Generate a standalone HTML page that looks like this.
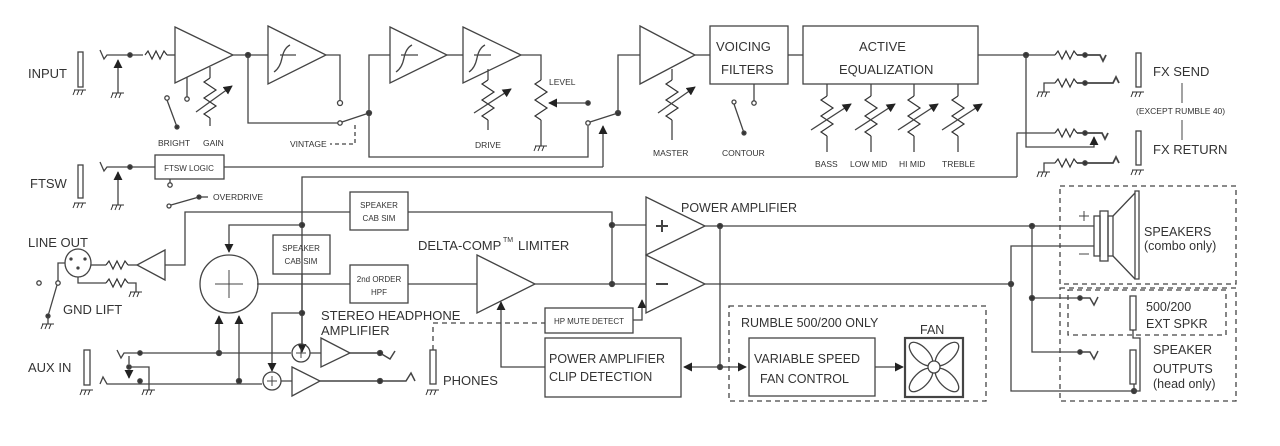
<!DOCTYPE html>
<html><head><meta charset="utf-8"><style>
html,body{margin:0;padding:0;background:#fff;}
svg{display:block;}
text{font-family:"Liberation Sans",sans-serif;fill:#333;}
.s{font-size:8.5px;}
.m{font-size:13px;}
.c{text-anchor:middle;font-size:8px;}
</style></head><body>
<svg width="1280" height="446" viewBox="0 0 1280 446" xmlns="http://www.w3.org/2000/svg">
<defs>
<marker id="ar" viewBox="0 0 10 10" refX="9" refY="5" markerWidth="7" markerHeight="7" orient="auto-start-reverse"><path d="M0,0 L10,5 L0,10 z" fill="#222"/></marker>
<g id="gnd"><path d="M-6,0 H6 M-5,0 l-2,5 M-1,0 l-2,5 M3,0 l-2,5" stroke="#333" stroke-width="1" fill="none"/></g>
<g id="rh"><path d="M0,0 l3,-4 l4,8 l4,-8 l4,8 l4,-8 l3,4" stroke="#333" stroke-width="1.2" fill="none"/></g>
<g id="rv"><path d="M0,0 l-6,4 l12,8 l-12,8 l12,8 l-12,8 l6,4" stroke="#333" stroke-width="1.2" fill="none"/></g>
</defs>
<g stroke="#444" stroke-width="1.3" fill="none">
<!-- INPUT -->
<rect x="78" y="52" width="5" height="35"/>
<use href="#gnd" x="80" y="90"/>
<path d="M100,50 l4,9 l3,-4 H130 H143"/>
<path d="M118,93 V60" marker-end="url(#ar)"/>
<use href="#gnd" x="118" y="93"/>
<circle cx="130" cy="55" r="2.2" fill="#333"/>
<use href="#rh" x="145" y="55"/>
<path d="M167,55 H175"/>
<path d="M175,27 L233,55 L175,83 Z"/>
<path d="M233,55 H268"/><circle cx="248" cy="55" r="2.5" fill="#333"/>
<path d="M187,77 V97"/><circle cx="187" cy="99" r="2.2"/>
<circle cx="167" cy="98" r="2.2"/><path d="M167,100 L177,127"/><circle cx="177" cy="127" r="2" fill="#333"/>
<path d="M210,67 V78"/><use href="#rv" x="210" y="78"/><path d="M210,118 V126"/>
<path d="M196,112 L232,86" marker-end="url(#ar)"/>
<!-- amp2 -->
<path d="M268,26 L326,55 L268,84 Z"/><path d="M274,72 q6,-4 8,-14 q2,-10 8,-13 M280,55 H296"/>
<path d="M326,55 H340 V100"/><circle cx="340" cy="103" r="2.5"/>
<path d="M248,55 V123 H338"/><circle cx="340" cy="123" r="2.2"/>
<path d="M342,122 L369,113"/><circle cx="369" cy="113" r="2.5" fill="#333"/>
<path d="M355,125 V144 H330" stroke-dasharray="4,3"/>
<path d="M369,113 V55 H390 M369,113 V157 H588 V126"/><circle cx="588" cy="123" r="2.2"/>
<!-- amp3,4 -->
<path d="M390,27 L447,55 L390,83 Z"/><path d="M396,72 q6,-4 8,-14 q2,-10 8,-13 M401,55 H418"/>
<path d="M447,55 H463"/>
<path d="M463,27 L521,55 L463,83 Z"/><path d="M469,72 q6,-4 8,-14 q2,-10 8,-13 M474,55 H491"/>
<path d="M488,69 V80"/><use href="#rv" x="488" y="80"/><path d="M488,120 V130"/>
<path d="M474,113 L511,89" marker-end="url(#ar)"/>
<path d="M521,55 H541 V80"/><use href="#rv" x="541" y="80"/><path d="M541,120 V146"/><use href="#gnd" x="541" y="146"/>
<path d="M588,103 H549" marker-end="url(#ar)"/><circle cx="588" cy="103" r="2.2" fill="#333"/>
<path d="M590,122 L618,113"/><circle cx="618" cy="113" r="2.5" fill="#333"/>
<path d="M603,167 V126" marker-end="url(#ar)"/>
<path d="M618,113 V55 H640"/>
<!-- amp5 -->
<path d="M640,26 L695,55 L640,84 Z"/>
<path d="M672,69 V80"/><use href="#rv" x="672" y="80"/><path d="M672,120 V140"/>
<path d="M658,113 L695,87" marker-end="url(#ar)"/>
<path d="M695,55 H710"/>
<rect x="710" y="26" width="78" height="58"/>
<path d="M788,55 H803"/>
<rect x="803" y="26" width="175" height="58"/>
<path d="M754,84 V101"/><circle cx="754" cy="103" r="2.2"/>
<circle cx="734" cy="102" r="2"/><path d="M734,104 L744,133"/><circle cx="744" cy="133" r="2" fill="#333"/>
<path d="M827,84 V96"/><use href="#rv" x="827" y="96"/><path d="M827,136 V152"/><path d="M811,130 L851,104" marker-end="url(#ar)"/>
<path d="M871,84 V96"/><use href="#rv" x="871" y="96"/><path d="M871,136 V152"/><path d="M855,130 L895,104" marker-end="url(#ar)"/>
<path d="M914,84 V96"/><use href="#rv" x="914" y="96"/><path d="M914,136 V152"/><path d="M898,130 L938,104" marker-end="url(#ar)"/>
<path d="M958,84 V96"/><use href="#rv" x="958" y="96"/><path d="M958,136 V152"/><path d="M942,130 L982,104" marker-end="url(#ar)"/>
<!-- FX -->
<path d="M978,55 H1055"/><circle cx="1026" cy="55" r="2.5" fill="#333"/>
<use href="#rh" x="1055" y="55"/><path d="M1077,55 H1100 l3,6 l3,-6" stroke-width="1.8"/><circle cx="1085" cy="55" r="2.2" fill="#333"/>
<use href="#gnd" x="1044" y="92"/><path d="M1044,92 V83 H1055"/><use href="#rh" x="1055" y="83"/><path d="M1077,83 H1113 l3,-6 l3,6" stroke-width="1.8"/><circle cx="1085" cy="83" r="2.2" fill="#333"/>
<rect x="1136" y="53" width="5" height="34"/><use href="#gnd" x="1138" y="92"/>
<path d="M1182,83 V103 M1182,120 V140" stroke-width="1"/>
<rect x="1136" y="131" width="5" height="34"/><use href="#gnd" x="1138" y="170"/>
<path d="M1017,177 V133 H1055"/><use href="#rh" x="1055" y="133"/><path d="M1077,133 H1102 l3,6 l3,-6" stroke-width="1.8"/><circle cx="1085" cy="133" r="2.2" fill="#333"/>
<path d="M1026,55 V147 H1094 V137" marker-end="url(#ar)"/>
<use href="#gnd" x="1044" y="172"/><path d="M1044,172 V163 H1055"/><use href="#rh" x="1055" y="163"/><path d="M1077,163 H1113 l3,-6 l3,6" stroke-width="1.8"/><circle cx="1085" cy="163" r="2.2" fill="#333"/>
<path d="M1017,177 H302 V352" /><circle cx="302" cy="225" r="2.5" fill="#333"/>
<!-- FTSW -->
<rect x="78" y="165" width="5" height="33"/><use href="#gnd" x="80" y="203"/>
<path d="M100,162 l4,9 l3,-4 H130 H155"/><circle cx="130" cy="167" r="2.2" fill="#333"/>
<path d="M118,205 V172" marker-end="url(#ar)"/><use href="#gnd" x="118" y="205"/>
<rect x="155" y="155" width="69" height="24"/>
<path d="M224,167 H603"/>
<path d="M170,179 V183"/><circle cx="170" cy="185" r="2.2"/>
<circle cx="169" cy="206" r="2"/><path d="M171,205 L199,197"/><circle cx="199" cy="197" r="2" fill="#333"/><path d="M199,197 H208"/>
<!-- line out -->
<rect x="350" y="192" width="58" height="38"/>
<path d="M165,265 H185 V212 H350 M408,212 H612 V284"/>
<circle cx="612" cy="225" r="2.5" fill="#333"/><circle cx="612" cy="284" r="2.5" fill="#333"/>
<path d="M612,225 H646 M535,284 H646"/>
<path d="M165,250 L137,265 L165,280 Z"/>
<path d="M137,265 H128"/><use href="#rh" x="106" y="265"/><path d="M106,265 H91"/>
<ellipse cx="78" cy="263" rx="13" ry="14"/>
<circle cx="71" cy="259" r="1" fill="#333"/><circle cx="85" cy="259" r="1" fill="#333"/><circle cx="78" cy="268" r="1" fill="#333"/>
<path d="M65,263 H58 V281"/><circle cx="58" cy="283" r="2.2"/><circle cx="39" cy="283" r="2.2"/>
<path d="M57,285 L48,316"/><circle cx="48" cy="316" r="2" fill="#333"/><use href="#gnd" x="48" y="324"/><path d="M48,316 V324"/>
<path d="M78,277 V283 H106"/><use href="#rh" x="106" y="283"/><path d="M128,283 H136 V292"/><use href="#gnd" x="136" y="292"/>
<!-- sum -->
<ellipse cx="229" cy="284" rx="29" ry="29"/><path d="M229,270 V298 M215,284 H243" stroke-width="1"/>
<path d="M302,225 H229 V252" marker-end="url(#ar)"/>
<rect x="273" y="235" width="57" height="39"/>
<path d="M257,284 H350"/><rect x="350" y="265" width="58" height="38"/><path d="M408,284 H477"/>
<path d="M477,255 L535,284 L477,313 Z"/>
<path d="M302,274 V352" marker-end="url(#ar)"/><circle cx="302" cy="313" r="2.5" fill="#333"/>
<path d="M302,313 H272 V371" marker-end="url(#ar)"/>
<path d="M219,353 V316" marker-end="url(#ar)"/><path d="M239,381 V316" marker-end="url(#ar)"/>
<circle cx="219" cy="353" r="2.5" fill="#333"/><circle cx="239" cy="381" r="2.5" fill="#333"/>
<!-- aux -->
<rect x="84" y="350" width="6" height="35"/><use href="#gnd" x="87" y="390"/>
<path d="M117,350 l4,8 l3,-5 H140 H291" /><circle cx="140" cy="353" r="2.2" fill="#333"/>
<path d="M100,384 l3,-7 l4,7 H140 H262" /><circle cx="140" cy="381" r="2.2" fill="#333"/>
<path d="M129,364 V356 M129,370 V378" marker-end="url(#ar)"/><circle cx="129" cy="367" r="2.2" fill="#333"/>
<path d="M129,367 H149 V390"/><use href="#gnd" x="149" y="390"/>
<circle cx="301" cy="353" r="9"/><path d="M301,348 V358 M296,353 H306" stroke-width="1"/>
<circle cx="272" cy="381" r="9"/><path d="M272,376 V386 M267,381 H277" stroke-width="1"/>
<path d="M310,353 H321 M281,381 H292"/>
<path d="M321,338 L350,353 L321,367 Z"/><path d="M292,367 L320,381 L292,396 Z"/>
<path d="M350,353 H380 l10,6 l5,-8" stroke-width="1.5"/><circle cx="380" cy="353" r="2.5" fill="#333"/>
<path d="M320,381 H380 H406 l5,-8 l4,8" stroke-width="1.5"/><circle cx="380" cy="381" r="2.5" fill="#333"/>
<rect x="430" y="350" width="6" height="34"/><use href="#gnd" x="433" y="390"/>
<path d="M433,350 V323 H545" stroke-dasharray="5,4"/>
<rect x="545" y="308" width="88" height="25"/>
<path d="M633,320 H642 V300" marker-end="url(#ar)" />
<rect x="545" y="338" width="136" height="59"/>
<path d="M545,367 H501 V302" marker-end="url(#ar)"/>
<!-- power amps -->
<path d="M646,197 L705,226 L646,255 Z"/><path d="M646,255 L705,284 L646,313 Z"/>
<path d="M656,226 H668 M662,220 V232 M656,284 H668" stroke-width="2"/>
<path d="M705,226 H1094"/><circle cx="720" cy="226" r="2.5" fill="#333"/><circle cx="1032" cy="226" r="2.5" fill="#333"/>
<path d="M720,226 V367"/><circle cx="720" cy="367" r="2.5" fill="#333"/>
<path d="M720,367 H684" marker-end="url(#ar)"/><path d="M720,367 H746" marker-end="url(#ar)"/>
<path d="M705,284 H1011"/><circle cx="1011" cy="284" r="2.5" fill="#333"/>
<path d="M1011,284 V246 H1094 M1011,284 V391 H1134"/><circle cx="1134" cy="391" r="2.5" fill="#333"/>
<path d="M1032,226 V352 H1080 M1032,298 H1080"/><circle cx="1032" cy="298" r="2.5" fill="#333"/>
<path d="M1080,298 H1090 l4,7 l4,-8" stroke-width="1.5"/><circle cx="1080" cy="298" r="2.2" fill="#333"/>
<path d="M1080,352 H1090 l4,7 l4,-8" stroke-width="1.5"/><circle cx="1080" cy="352" r="2.2" fill="#333"/>
<!-- rumble -->
<rect x="729" y="306" width="257" height="95" stroke-dasharray="5,4"/>
<rect x="749" y="338" width="126" height="58"/>
<path d="M875,367 H903" marker-end="url(#ar)"/>
<rect x="905" y="338" width="58" height="59" stroke-width="2.2"/>
<ellipse cx="921" cy="354" rx="15" ry="7" transform="rotate(45 921 354)"/>
<ellipse cx="947" cy="380" rx="15" ry="7" transform="rotate(45 947 380)"/>
<ellipse cx="947" cy="354" rx="15" ry="7" transform="rotate(-45 947 354)"/>
<ellipse cx="921" cy="380" rx="15" ry="7" transform="rotate(-45 921 380)"/>
<circle cx="934" cy="367" r="6" fill="#fff"/>
<!-- speaker -->
<rect x="1060" y="186" width="176" height="98" stroke-dasharray="5,4"/>
<rect x="1094" y="216" width="6" height="40"/><rect x="1100" y="211" width="8" height="50"/><rect x="1108" y="216" width="5" height="40"/>
<path d="M1113,216 L1135,193 M1113,256 L1135,279"/><rect x="1135" y="191" width="4" height="88"/>
<path d="M1079,216 H1089 M1084,211 V221 M1079,254 H1089" stroke-width="1"/>
<rect x="1060" y="288" width="176" height="113" stroke-dasharray="5,4"/>
<rect x="1068" y="290" width="158" height="45" stroke-dasharray="5,4"/>
<rect x="1130" y="296" width="6" height="34"/><rect x="1130" y="350" width="6" height="34"/>
<path d="M1133,330 V338 H1140 V391 H1134 V384"/>
</g>
<g>
<text x="28" y="78" class="m">INPUT</text>
<text x="30" y="188" class="m">FTSW</text>
<text x="28" y="247" class="m">LINE OUT</text>
<text x="63" y="314" class="m">GND LIFT</text>
<text x="28" y="372" class="m">AUX IN</text>
<text x="443" y="385" class="m">PHONES</text>
<text x="158" y="146" class="s">BRIGHT</text>
<text x="203" y="146" class="s">GAIN</text>
<text x="290" y="147" class="s">VINTAGE</text>
<text x="475" y="148" class="s">DRIVE</text>
<text x="549" y="85" class="s">LEVEL</text>
<text x="653" y="156" class="s">MASTER</text>
<text x="722" y="156" class="s">CONTOUR</text>
<text x="815" y="167" class="s">BASS</text>
<text x="850" y="167" class="s">LOW MID</text>
<text x="899" y="167" class="s">HI MID</text>
<text x="942" y="167" class="s">TREBLE</text>
<text x="189" y="171" class="c">FTSW LOGIC</text>
<text x="213" y="200" class="s">OVERDRIVE</text>
<text x="716" y="51" font-size="13">VOICING</text>
<text x="721" y="74" font-size="13">FILTERS</text>
<text x="859" y="51" font-size="13">ACTIVE</text>
<text x="839" y="74" font-size="13">EQUALIZATION</text>
<text x="1153" y="76" class="m">FX SEND</text>
<text x="1153" y="154" class="m">FX RETURN</text>
<text x="1136" y="114" class="s">(EXCEPT RUMBLE 40)</text>
<text x="379" y="208" class="c">SPEAKER</text><text x="379" y="221" class="c">CAB SIM</text>
<text x="301" y="251" class="c">SPEAKER</text><text x="301" y="264" class="c">CAB SIM</text>
<text x="379" y="282" class="c">2nd ORDER</text><text x="379" y="295" class="c">HPF</text>
<text x="589" y="324" class="c">HP MUTE DETECT</text>
<text x="418" y="250" class="m">DELTA-COMP</text><text x="503" y="242" font-size="7">TM</text><text x="518" y="250" class="m">LIMITER</text>
<text x="681" y="212" font-size="12.5">POWER AMPLIFIER</text>
<text x="321" y="320" class="m">STEREO HEADPHONE</text>
<text x="321" y="335" class="m">AMPLIFIER</text>
<text x="549" y="363" font-size="12.5">POWER AMPLIFIER</text>
<text x="549" y="381" font-size="12.5">CLIP DETECTION</text>
<text x="741" y="327" font-size="12.5">RUMBLE 500/200 ONLY</text>
<text x="754" y="363" font-size="12.5">VARIABLE SPEED</text>
<text x="760" y="383" font-size="12.5">FAN CONTROL</text>
<text x="920" y="334" font-size="12.5">FAN</text>
<text x="1144" y="236" font-size="12.5">SPEAKERS</text>
<text x="1144" y="250" font-size="12.5">(combo only)</text>
<text x="1146" y="311" font-size="12.5">500/200</text>
<text x="1146" y="328" font-size="12.5">EXT SPKR</text>
<text x="1153" y="354" font-size="12.5">SPEAKER</text>
<text x="1153" y="373" font-size="12.5">OUTPUTS</text>
<text x="1153" y="388" font-size="12.5">(head only)</text>
</g>
</svg>
</body></html>
